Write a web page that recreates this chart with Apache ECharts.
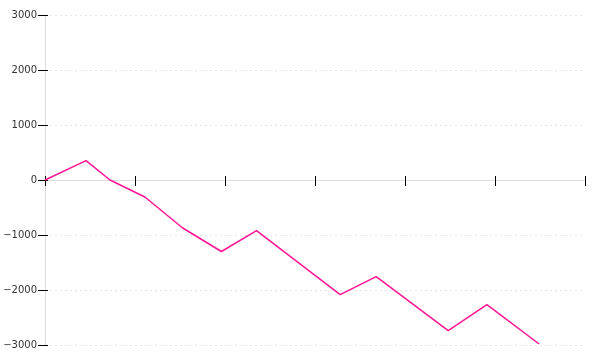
<!DOCTYPE html>
<html>
<head>
<meta charset="utf-8">
<script src="https://cdn.jsdelivr.net/npm/echarts@6/dist/echarts.min.js"></script>
<style>html,body{margin:0;padding:0;background:#fff;}#c{width:600px;height:360px;}</style>
</head>
<body>
<div id="c"></div>
<script>
const xValues = [0, 0.456, 0.722, 1.11, 1.53, 1.96, 2.35, 3.28, 3.68, 4.48, 4.91, 5.49];
const yValues = [0, 351, 0, -309, -873, -1300, -922, -2085, -1758, -2740, -2267, -2982];
const yTicks = [-3000, -2000, -1000, 0, 1000, 2000, 3000];

const points = xValues.map((x, i) => [x, yValues[i]]);
const chart = echarts.init(document.getElementById('c'), null, {renderer: 'canvas'});
const yBase = {
  type: 'value', min: yTicks[0], max: yTicks[yTicks.length - 1], interval: 1000,
  position: 'left'
};
const xBase = {
  type: 'value', min: 0, max: 6, interval: 1, position: 'bottom'
};
chart.setOption({
  animation: false,
  grid: {left: 45, right: 15, top: 15, bottom: 15, containLabel: false},
  xAxis: [
    Object.assign({}, xBase, {
      axisLine: {show: true, onZero: true, lineStyle: {color: '#dddddd', width: 1}},
      axisTick: {show: true, length: 6, lineStyle: {color: '#000', width: 1}},
      axisLabel: {show: false},
      splitLine: {show: false}
    }),
    Object.assign({}, xBase, {
      axisLine: {show: false, onZero: true},
      axisTick: {show: true, inside: true, length: 4, lineStyle: {color: '#000', width: 1}},
      axisLabel: {show: false},
      splitLine: {show: false}
    })
  ],
  yAxis: [
    Object.assign({}, yBase, {
      axisLine: {show: true, onZero: false, lineStyle: {color: '#dddddd', width: 1}},
      axisTick: {show: true, length: 7, lineStyle: {color: '#000', width: 1}},
      axisLabel: {
        show: true, margin: 8, color: '#333', fontFamily: 'DejaVu Sans', fontSize: 10,
        formatter: v => (v < 0 ? '\u2212' + Math.abs(v) : String(v))
      },
      splitLine: {show: true, lineStyle: {color: '#e6e6e6', type: [2, 3], width: 1}}
    }),
    Object.assign({}, yBase, {
      axisLine: {show: false, onZero: false},
      axisTick: {show: true, inside: true, length: 3, lineStyle: {color: '#000', width: 1}},
      axisLabel: {show: false},
      splitLine: {show: false}
    })
  ],
  series: [{
    type: 'line',
    data: points,
    xAxisIndex: 0,
    yAxisIndex: 0,
    showSymbol: false,
    symbol: 'none',
    lineStyle: {color: '#ff1493', width: 1.5},
    z: 5
  }]
});
</script>
</body>
</html>
